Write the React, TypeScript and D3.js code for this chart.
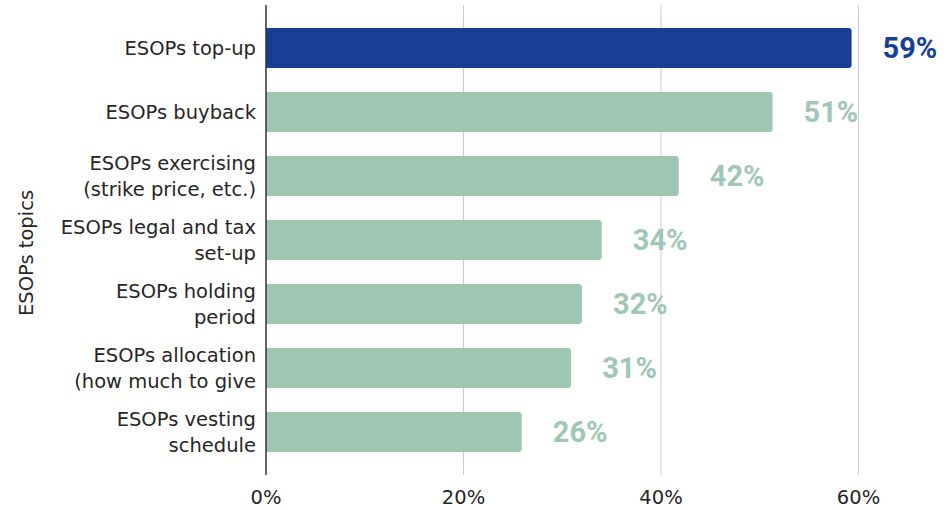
import React from "react";
import * as d3 from "d3";

const categories = [
  ["ESOPs top-up"],
  ["ESOPs buyback"],
  ["ESOPs exercising", "(strike price, etc.)"],
  ["ESOPs legal and tax", "set-up"],
  ["ESOPs holding", "period"],
  ["ESOPs allocation", "(how much to give"],
  ["ESOPs vesting", "schedule"],
];
const values = [59.3, 51.3, 41.8, 34.0, 32.0, 30.9, 25.9];
const valueLabels = ["59%", "51%", "42%", "34%", "32%", "31%", "26%"];
const highlight = [true, false, false, false, false, false, false];
const xTicks = [0, 20, 40, 60];
const axisTitle = "ESOPs topics";

const W = 949;
const H = 510;
const BLUE = "#173f98";
const GREEN = "#9fc8b4";

export default function App() {
  const x = d3.scaleLinear().domain([0, 60]).range([266, 858.5]);
  const y = d3
    .scaleBand<number>()
    .domain(d3.range(categories.length))
    .range([16, 464])
    .paddingInner(0.375)
    .paddingOuter(0.1875);
  const top = 5;
  const bottom = 475;
  const font = "DejaVu Sans, Verdana, sans-serif";
  return (
    <svg width={W} height={H} style={{ position: "absolute", left: 0, top: 0 }}>
      <rect width={W} height={H} fill="#fff" />
      {xTicks.map((t) =>
        t === 0 ? null : (
          <line key={t} x1={x(t)} x2={x(t)} y1={top} y2={bottom} stroke="#cccccc" strokeWidth={1} />
        )
      )}
      {values.map((v, i) => {
        const y0 = y(i)!;
        const bw = y.bandwidth();
        const c = highlight[i] ? BLUE : GREEN;
        return (
          <g key={i}>
            <rect x={x(0)} y={y0} width={x(v) - x(0)} height={bw} rx={3} fill={c} />
            <rect x={x(0)} y={y0} width={6} height={bw} fill={c} />
            <text
              x={x(v) + 31}
              y={y0 + bw / 2}
              dy="0.36em"
              fontFamily="Roboto, sans-serif"
              fontWeight={700}
              fontSize={29}
              fill={c}
            >
              {valueLabels[i]}
            </text>
          </g>
        );
      })}
      <line x1={x(0)} x2={x(0)} y1={top} y2={bottom} stroke="#333" strokeWidth={1.5} />
      {categories.map((lines, i) => {
        const cy = y(i)! + y.bandwidth() / 2;
        const lh = 26;
        const start = cy - ((lines.length - 1) * lh) / 2;
        return (
          <text key={i} textAnchor="end" fontFamily={font} fontSize={19.5} fill="#262626">
            {lines.map((l, j) => (
              <tspan key={j} x={256} y={start + j * lh} dy="0.35em">
                {l}
              </tspan>
            ))}
          </text>
        );
      })}
      {xTicks.map((t) => (
        <text key={t} x={x(t)} y={497} dy="0.35em" textAnchor="middle" fontFamily={font} fontSize={19.5} fill="#262626">
          {t}%
        </text>
      ))}
      <text
        transform={`translate(26,${253}) rotate(-90)`}
        textAnchor="middle"
        dy="0.35em"
        fontFamily={font}
        fontSize={19.5}
        fill="#262626"
      >
        {axisTitle}
      </text>
    </svg>
  );
}
